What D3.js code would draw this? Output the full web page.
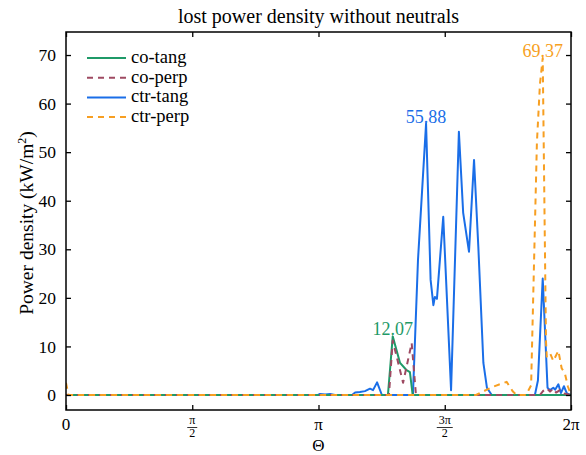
<!DOCTYPE html>
<html>
<head>
<meta charset="utf-8">
<script src="https://cdn.jsdelivr.net/npm/d3@7"></script>
<style>
  body { margin: 0; background: #fff; }
  svg { display: block; }
  svg text { font-family: "Liberation Serif", "Times New Roman", "DejaVu Serif", serif !important; }
</style>
</head>
<body>
<svg id="chart" width="586" height="455" font-family="Liberation Serif, serif"></svg>
<script>
// Angles are given in units of pi (theta / pi); values in kW/m^2
const coTangTheta = [0, 1.275, 1.294, 1.323, 1.349, 1.362, 1.373, 2.0];
const coTangValue = [0, 0, 12.07, 6.6, 5.1, 4.7, 0, 0];

const coPerpTheta = [0, 1.279, 1.294, 1.335, 1.369, 1.386, 1.877, 1.889, 1.904, 1.917, 1.930, 1.941, 1.956, 1.972, 2.0];
const coPerpValue = [0, 0, 11.2, 2.5, 10.7, 0, 0, 0.8, 1.4, 0.7, 1.3, 0.5, 1.0, 0.3, 0];

const ctrTangTheta = [0, 0.998, 1.006, 1.026, 1.046, 1.065, 1.133, 1.145, 1.164, 1.184, 1.204, 1.216, 1.232, 1.251,
  1.374, 1.394, 1.426, 1.444, 1.455, 1.461, 1.469, 1.494, 1.525, 1.556, 1.573, 1.596, 1.616, 1.633, 1.653, 1.667, 1.686,
  1.857, 1.869, 1.888, 1.907, 1.917, 1.930, 1.937, 1.950, 1.960, 1.972, 1.984, 2.0];
const ctrTangValue = [0, 0, 0.2, 0.1, 0.2, 0, 0, 0.5, 0.6, 0.8, 1.3, 1.0, 2.6, 0,
  0, 27.8, 55.88, 23.7, 18.5, 20.2, 19.8, 36.7, 1.0, 54.2, 37.5, 29.5, 48.4, 30.5, 6.6, 1.5, 0,
  0, 3.0, 24.0, 1.5, 1.0, 1.5, 1.1, 2.2, 0.4, 1.8, 0.3, 0];

const ctrPerpTheta = [0, 0.01, 1.624, 1.663, 1.691, 1.745, 1.770, 1.785, 1.822, 1.842, 1.865, 1.877, 1.888, 1.901,
  1.904, 1.917, 1.930, 1.950, 1.963, 1.976, 1.988, 2.0];
const ctrPerpValue = [2.5, 0, 0, 1.0, 1.7, 2.7, 0.7, 0, 0, 2.0, 52, 64, 69.37, 11,
  7.9, 8.6, 7.0, 9.1, 5.5, 4.4, 1.7, 0];

const seriesNames = ["co-tang", "co-perp", "ctr-tang", "ctr-perp"];
const yTicks = [0, 10, 20, 30, 40, 50, 60, 70];
const xTickLabels = ["0", "π/2", "π", "3π/2", "2π"];
const xTickValues = [0, Math.PI / 2, Math.PI, 3 * Math.PI / 2, 2 * Math.PI];

const colors = ["#1f9a68", "#9e4a62", "#1a6ee8", "#f79f22"];
const dashes = [null, "6,5", null, "6,5"];
const peaks = [
  { s: 0, label: "12.07" },
  { s: 2, label: "55.88" },
  { s: 3, label: "69.37" }
];

const FONT = "Liberation Serif, Times New Roman, DejaVu Serif, serif";
const svg = d3.select("#chart");
const L = 66, R = 571, T = 32, B = 410;
const x = d3.scaleLinear().domain([0, 2 * Math.PI]).range([L, R]);
const y = d3.scaleLinear().domain([-3.09, 74.74]).range([B, T]);

const series = [
  [coTangTheta, coTangValue],
  [coPerpTheta, coPerpValue],
  [ctrTangTheta, ctrTangValue],
  [ctrPerpTheta, ctrPerpValue]
].map(([th, v]) => th.map((t, i) => ({ t: t * Math.PI, v: v[i] })));

const line = d3.line().x(d => x(d.t)).y(d => y(d.v));

svg.append("clipPath").attr("id", "clip")
  .append("rect").attr("x", L).attr("y", T).attr("width", R - L).attr("height", B - T);

const g = svg.append("g").attr("clip-path", "url(#clip)");
[2, 0, 1, 3].forEach(i => {
  g.append("path")
    .datum(series[i])
    .attr("fill", "none")
    .attr("stroke", colors[i])
    .attr("stroke-width", 2)
    .attr("stroke-dasharray", dashes[i])
    .attr("stroke-linejoin", "round")
    .attr("d", line);
});

const tickLen = 5;
const axL = d3.axisLeft(y).tickValues(yTicks).tickSizeInner(-tickLen).tickSizeOuter(0).tickPadding(10);
const axR = d3.axisRight(y).tickValues(yTicks).tickSizeInner(-tickLen).tickSizeOuter(0).tickFormat("");
const axB = d3.axisBottom(x).tickValues(xTickValues).tickSizeInner(-tickLen).tickSizeOuter(0).tickFormat("");
const axT = d3.axisTop(x).tickValues(xTickValues).tickSizeInner(-tickLen).tickSizeOuter(0).tickFormat("");

function styleAxis(sel) {
  sel.attr("font-family", FONT);
  sel.select(".domain").remove();
  sel.selectAll(".tick line").attr("stroke", "#000").attr("stroke-width", 1.3);
  sel.selectAll(".tick text").attr("font-family", FONT).attr("font-size", 17.5).attr("fill", "#000");
}
svg.append("g").attr("transform", `translate(${L},0)`).call(axL).call(styleAxis);
svg.append("g").attr("transform", `translate(${R},0)`).call(axR).call(styleAxis);
svg.append("g").attr("transform", `translate(0,${B})`).call(axB).call(styleAxis);
svg.append("g").attr("transform", `translate(0,${T})`).call(axT).call(styleAxis);

svg.append("rect").attr("x", L).attr("y", T).attr("width", R - L).attr("height", B - T)
  .attr("fill", "none").attr("stroke", "#000").attr("stroke-width", 1.5);

xTickLabels.forEach((lab, i) => {
  const px = x(xTickValues[i]);
  if (lab.includes("/")) {
    const [num, den] = lab.split("/");
    svg.append("text").attr("x", px).attr("y", 424).attr("text-anchor", "middle")
      .attr("font-family", FONT).attr("font-size", 12).text(num);
    svg.append("line").attr("x1", px - (num.length > 1 ? 8 : 5)).attr("x2", px + (num.length > 1 ? 8 : 5))
      .attr("y1", 427.5).attr("y2", 427.5).attr("stroke", "#000").attr("stroke-width", 0.8);
    svg.append("text").attr("x", px).attr("y", 437).attr("text-anchor", "middle")
      .attr("font-family", FONT).attr("font-size", 12).text(den);
  } else {
    svg.append("text").attr("x", px).attr("y", 430).attr("text-anchor", "middle")
      .attr("font-family", FONT).attr("font-size", 17).text(lab);
  }
});

svg.append("text").attr("x", (L + R) / 2).attr("y", 451).attr("text-anchor", "middle")
  .attr("font-family", FONT).attr("font-size", 17).text("Θ");
svg.append("text").attr("transform", `translate(33,${(T + B) / 2 + 2}) rotate(-90)`)
  .attr("text-anchor", "middle").attr("font-family", FONT).attr("font-size", 19.5)
  .html('Power density (kW/m<tspan dy="-7" font-size="12">2</tspan><tspan dy="7">)</tspan>');

svg.append("text").attr("x", (L + R) / 2).attr("y", 23).attr("text-anchor", "middle")
  .attr("font-family", FONT).attr("font-size", 20).text("lost power density without neutrals");

peaks.forEach(p => {
  const d = series[p.s].reduce((a, b) => (b.v > a.v ? b : a));
  svg.append("text").attr("x", x(d.t)).attr("y", y(d.v) - 1).attr("text-anchor", "middle")
    .attr("font-family", FONT).attr("font-size", 18).attr("fill", colors[p.s]).text(p.label);
});

const lg = svg.append("g");
seriesNames.forEach((name, i) => {
  const yy = 58 + i * 19.7;
  lg.append("line").attr("x1", 87).attr("x2", 126).attr("y1", yy).attr("y2", yy)
    .attr("stroke", colors[i]).attr("stroke-width", 2).attr("stroke-dasharray", dashes[i]);
  lg.append("text").attr("x", 131).attr("y", yy + 5).attr("font-family", FONT).attr("font-size", 18.5).text(name);
});
</script>
</body>
</html>
